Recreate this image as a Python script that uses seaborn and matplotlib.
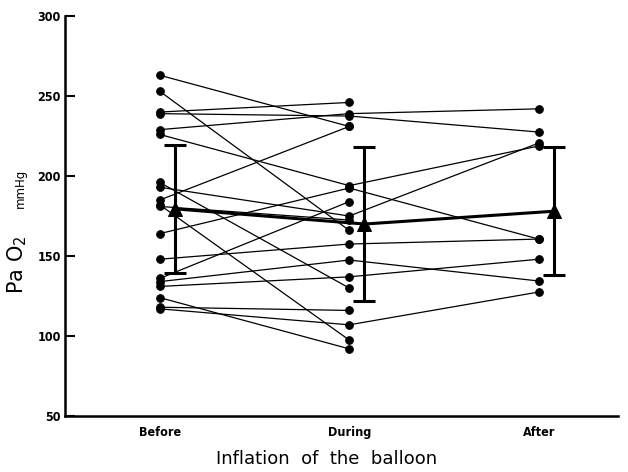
import numpy as np
import pandas as pd
import matplotlib
matplotlib.use("Agg")
import matplotlib.pyplot as plt
import seaborn as sns

phases = ["Before", "During", "After"]
before = [263, 253, 240, 239, 229, 226, 196, 193, 185, 182, 164, 148, 136, 134, 131, 124, 118, 117, 181]
during = [231, 166, 246, 237.5, 239, 194, 130, 175, 231, 97.5, 192.5, 157.5, 184, 147.5, 137, 92, 116, 107, 172.5]
after = [np.nan, np.nan, np.nan, 227.5, 242, 218.75, np.nan, 220.6, np.nan, np.nan, 160.6, 160.6,
         np.nan, 134.4, 148, np.nan, np.nan, 127.5, np.nan]
mean_vals = [179.5, 170, 178]
sd_vals = [40, 48, 40]

rows = []
for i in range(len(before)):
    for j, arr in enumerate([before, during, after]):
        rows.append({"subject": i, "pos": j, "value": arr[i]})
df = pd.DataFrame(rows).dropna()

sns.set_style("ticks")
plt.rcParams["font.family"] = ["DejaVu Sans"]
plt.rcParams["text.color"] = "black"
plt.rcParams["xtick.color"] = "black"
plt.rcParams["ytick.color"] = "black"
plt.rcParams["axes.edgecolor"] = "black"

fig = plt.figure(figsize=(6.28, 4.72), dpi=100)
ax = fig.add_axes([0.1035, 0.1186, 0.881, 0.8474])

sns.lineplot(data=df, x="pos", y="value", units="subject", estimator=None,
             color="black", lw=0.9, marker="o", markersize=5.5,
             markeredgecolor="black", ax=ax, legend=False)

mdf = pd.DataFrame({"pos": np.arange(3) + 0.08, "value": mean_vals})
sns.lineplot(data=mdf, x="pos", y="value", color="black", lw=2.2, marker="^",
             markersize=10, markeredgecolor="black", ax=ax, legend=False, zorder=5)
ax.errorbar(mdf["pos"], mdf["value"], yerr=sd_vals, fmt="none", ecolor="black",
            elinewidth=2.2, capsize=8, capthick=2.2, zorder=5)

ax.set_xlim(-0.5, 2.42)
ax.set_ylim(50, 300)
ax.set_yticks([50, 100, 150, 200, 250, 300])
ax.set_yticklabels(["50", "100", "150", "200", "250", "300"], fontsize=9,
                   fontweight="bold", fontstretch="condensed")
ax.set_xticks([0, 1, 2])
ax.set_xticklabels(phases, fontsize=9, fontweight="bold", fontstretch="condensed")
ax.tick_params(axis="y", direction="in", length=7, width=1.5, pad=3)
ax.tick_params(axis="x", length=0, pad=7)
ax.set_xlabel("")
ax.set_ylabel("")
sns.despine(ax=ax)
ax.spines["left"].set_linewidth(1.8)
ax.spines["bottom"].set_linewidth(1.8)

fig.text(0.52, 0.008, "Inflation  of  the  balloon", ha="center", va="bottom",
         fontsize=13)
fig.text(0.008, 0.44, "Pa O$_2$", rotation=90, ha="left", va="center",
         fontsize=15)
fig.text(0.022, 0.6, "mmHg", rotation=90, ha="left", va="center",
         fontsize=8.5)

fig.savefig("out.png", dpi=100, facecolor="white")
